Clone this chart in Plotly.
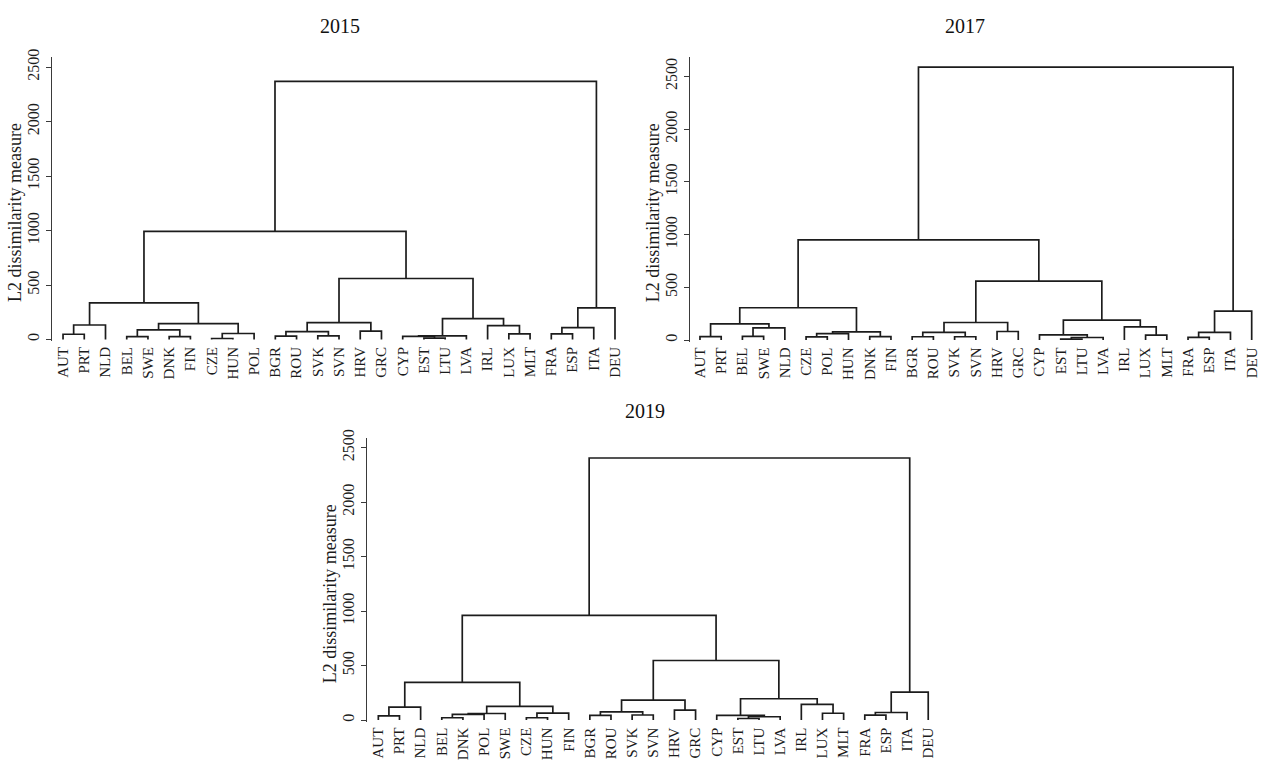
import plotly.graph_objects as go

W, H = 1264, 760

# ---- cluster trees: leaf order and merges (left, right, height) ----
# a merge refers to a leaf by name or to an earlier merge by its index
leaves_2015 = ["AUT", "PRT", "NLD", "BEL", "SWE", "DNK", "FIN", "CZE", "HUN", "POL",
               "BGR", "ROU", "SVK", "SVN", "HRV", "GRC", "CYP", "EST", "LTU", "LVA",
               "IRL", "LUX", "MLT", "FRA", "ESP", "ITA", "DEU"]
merges_2015 = [
    ("AUT", "PRT", 48),    # 0
    (0, "NLD", 133),       # 1
    ("BEL", "SWE", 27),    # 2
    ("DNK", "FIN", 27),    # 3
    (2, 3, 88),            # 4
    ("CZE", "HUN", 9),     # 5
    (5, "POL", 55),        # 6
    (4, 6, 145),           # 7
    (1, 7, 336),           # 8
    ("BGR", "ROU", 30),    # 9
    ("SVK", "SVN", 33),    # 10
    (9, 10, 73),           # 11
    ("HRV", "GRC", 76),    # 12
    (11, 12, 155),         # 13
    ("EST", "LTU", 12),    # 14
    ("CYP", 14, 28),       # 15
    (15, "LVA", 34),       # 16
    ("LUX", "MLT", 52),    # 17
    ("IRL", 17, 127),      # 18
    (16, 18, 191),         # 19
    (13, 19, 560),         # 20
    (8, 20, 992),          # 21
    ("FRA", "ESP", 51),    # 22
    (22, "ITA", 108),      # 23
    (23, "DEU", 290),      # 24
    (21, 24, 2370),        # 25
]

leaves_2017 = ["AUT", "PRT", "BEL", "SWE", "NLD", "CZE", "POL", "HUN", "DNK", "FIN",
               "BGR", "ROU", "SVK", "SVN", "HRV", "GRC", "CYP", "EST", "LTU", "LVA",
               "IRL", "LUX", "MLT", "FRA", "ESP", "ITA", "DEU"]
merges_2017 = [
    ("AUT", "PRT", 32),    # 0
    ("BEL", "SWE", 35),    # 1
    (1, "NLD", 115),       # 2
    (0, 2, 153),           # 3
    ("CZE", "POL", 30),    # 4
    (4, "HUN", 60),        # 5
    ("DNK", "FIN", 32),    # 6
    (5, 6, 78),            # 7
    (3, 7, 306),           # 8
    ("BGR", "ROU", 31),    # 9
    ("SVK", "SVN", 31),    # 10
    (9, 10, 72),           # 11
    ("HRV", "GRC", 81),    # 12
    (11, 12, 166),         # 13
    ("EST", "LTU", 8),     # 14
    (14, "LVA", 24),       # 15
    ("CYP", 15, 49),       # 16
    ("LUX", "MLT", 47),    # 17
    ("IRL", 17, 125),      # 18
    (16, 18, 188),         # 19
    (13, 19, 559),         # 20
    (8, 20, 950),          # 21
    ("FRA", "ESP", 25),    # 22
    (22, "ITA", 72),       # 23
    (23, "DEU", 275),      # 24
    (21, 24, 2588),        # 25
]

leaves_2019 = ["AUT", "PRT", "NLD", "BEL", "DNK", "POL", "SWE", "CZE", "HUN", "FIN",
               "BGR", "ROU", "SVK", "SVN", "HRV", "GRC", "CYP", "EST", "LTU", "LVA",
               "IRL", "LUX", "MLT", "FRA", "ESP", "ITA", "DEU"]
merges_2019 = [
    ("AUT", "PRT", 39),    # 0
    (0, "NLD", 120),       # 1
    ("BEL", "DNK", 22),    # 2
    (2, "POL", 52),        # 3
    (3, "SWE", 61),        # 4
    ("CZE", "HUN", 22),    # 5
    (5, "FIN", 65),        # 6
    (4, 6, 127),           # 7
    (1, 7, 347),           # 8
    ("BGR", "ROU", 44),    # 9
    ("SVK", "SVN", 47),    # 10
    (9, 10, 75),           # 11
    ("HRV", "GRC", 91),    # 12
    (11, 12, 184),         # 13
    ("EST", "LTU", 15),    # 14
    (14, "LVA", 31),       # 15
    ("CYP", 15, 44),       # 16
    ("LUX", "MLT", 63),    # 17
    ("IRL", 17, 145),      # 18
    (16, 18, 196),         # 19
    (13, 19, 547),         # 20
    (8, 20, 961),          # 21
    ("FRA", "ESP", 45),    # 22
    (22, "ITA", 70),       # 23
    (23, "DEU", 257),      # 24
    (21, 24, 2405),        # 25
]

y_ticks = [0, 500, 1000, 1500, 2000, 2500]
y_title = "L2 dissimilarity measure"

FONT = "Liberation Serif, Times New Roman, serif"
INK = "#1c1c1c"


def dendro_path(leaves, merges):
    """Return x/y sequences of the bracket segments of a dendrogram."""
    pos = {name: i for i, name in enumerate(leaves)}
    nodes = []

    def locate(ref):
        if isinstance(ref, str):
            return float(pos[ref]), 0.0
        return nodes[ref]

    xs, ys = [], []
    for a, b, h in merges:
        xa, ya = locate(a)
        xb, yb = locate(b)
        xs += [xa, xa, xb, xb, None]
        ys += [ya, h, h, yb, None]
        nodes.append(((xa + xb) / 2, h))
    return xs, ys


# panel geometry in page pixels: (left, right, top, bottom), x range, y range
panels = [
    dict(year="2015", leaves=leaves_2015, merges=merges_2015,
         px=(52, 625.6), py=(50, 337.0), xr=[-0.52, 26.5], yr=[-14, 2590],
         title_xy=(340, 18)),
    dict(year="2017", leaves=leaves_2017, merges=merges_2017,
         px=(690, 1262.3), py=(50, 337.5), xr=[-0.47, 26.5], yr=[-14, 2680],
         title_xy=(965, 18)),
    dict(year="2019", leaves=leaves_2019, merges=merges_2019,
         px=(366.7, 938.8), py=(435, 722.2), xr=[-0.55, 26.5], yr=[-14, 2590],
         title_xy=(645, 408)),
]

fig = go.Figure()
annotations = []
layout_axes = {}

for k, p in enumerate(panels, start=1):
    xname = "x" if k == 1 else f"x{k}"
    yname = "y" if k == 1 else f"y{k}"
    xs, ys = dendro_path(p["leaves"], p["merges"])
    fig.add_trace(go.Scatter(x=xs, y=ys, mode="lines",
                             line=dict(color=INK, width=1.7),
                             hoverinfo="skip", showlegend=False,
                             xaxis=xname, yaxis=yname))

    left, right = p["px"]
    top, bottom = p["py"]
    xkey = "xaxis" if k == 1 else f"xaxis{k}"
    ykey = "yaxis" if k == 1 else f"yaxis{k}"
    layout_axes[xkey] = dict(
        domain=[left / W, right / W], anchor=yname, range=p["xr"],
        showgrid=False, zeroline=False, showline=False, ticks="",
        tickmode="array", tickvals=list(range(len(p["leaves"]))),
        ticktext=p["leaves"], tickangle=-90,
        tickfont=dict(family=FONT, size=15, color=INK),
        ticklabelstandoff=2,
    )
    layout_axes[ykey] = dict(
        domain=[1 - bottom / H, 1 - top / H], anchor=xname, range=p["yr"],
        showgrid=False, zeroline=False, showline=True,
        linecolor="#3a3a3a", linewidth=1.3,
        ticks="outside", ticklen=5, tickwidth=1.3, tickcolor="#3a3a3a",
        tickmode="array", tickvals=y_ticks, tickangle=-90,
        tickfont=dict(family=FONT, size=16, color=INK),
    )

    tx, ty = p["title_xy"]
    annotations.append(dict(text=p["year"], x=tx / W, y=1 - ty / H,
                            xref="paper", yref="paper", showarrow=False,
                            xanchor="center", yanchor="middle",
                            font=dict(family=FONT, size=20, color="#111")))
    annotations.append(dict(text=y_title, x=(left - 37) / W,
                            y=1 - ((top + bottom) / 2 + 14) / H,
                            xref="paper", yref="paper", showarrow=False,
                            textangle=-90, xanchor="center", yanchor="middle",
                            font=dict(family=FONT, size=18, color=INK)))

fig.update_layout(
    width=W, height=H, margin=dict(l=0, r=0, t=0, b=0),
    paper_bgcolor="white", plot_bgcolor="white",
    annotations=annotations, **layout_axes,
)

fig.write_html("out.html")
